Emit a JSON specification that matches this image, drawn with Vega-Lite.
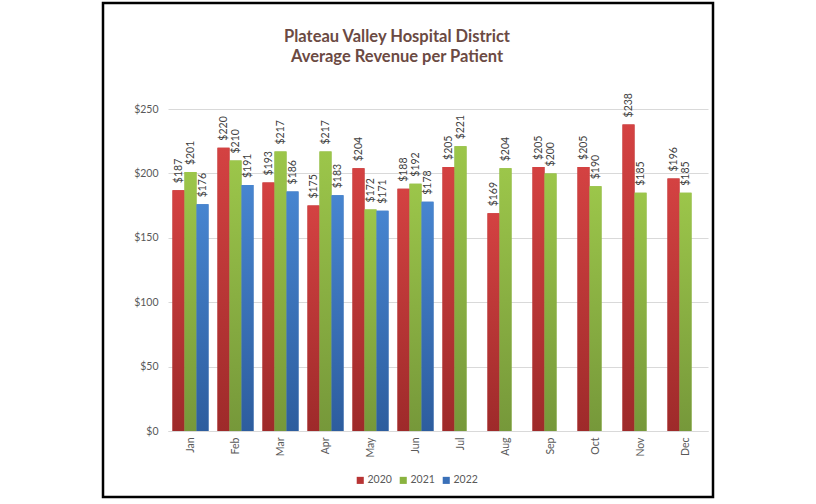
{
  "$schema": "https://vega.github.io/schema/vega-lite/v6.json",
  "width": 610,
  "height": 494,
  "autosize": {"type": "none"},
  "padding": {"left": 103, "top": 3, "right": 103, "bottom": 7},
  "background": "white",
  "config": {
    "view": {"stroke": "#000000", "strokeWidth": 2.5},
    "font": "Lato"
  },
  "title": {
    "text": ["Plateau Valley Hospital District", "Average Revenue per Patient"],
    "color": "#6B4A43",
    "fontSize": 16.5,
    "fontWeight": "bold",
    "anchor": "middle",
    "lineHeight": 20,
    "offset": -62,
    "dx": -11
  },
  "data": {
    "values": [
      {"month": "Jan", "year": "2020", "value": 187},
      {"month": "Jan", "year": "2021", "value": 201},
      {"month": "Jan", "year": "2022", "value": 176},
      {"month": "Feb", "year": "2020", "value": 220},
      {"month": "Feb", "year": "2021", "value": 210},
      {"month": "Feb", "year": "2022", "value": 191},
      {"month": "Mar", "year": "2020", "value": 193},
      {"month": "Mar", "year": "2021", "value": 217},
      {"month": "Mar", "year": "2022", "value": 186},
      {"month": "Apr", "year": "2020", "value": 175},
      {"month": "Apr", "year": "2021", "value": 217},
      {"month": "Apr", "year": "2022", "value": 183},
      {"month": "May", "year": "2020", "value": 204},
      {"month": "May", "year": "2021", "value": 172},
      {"month": "May", "year": "2022", "value": 171},
      {"month": "Jun", "year": "2020", "value": 188},
      {"month": "Jun", "year": "2021", "value": 192},
      {"month": "Jun", "year": "2022", "value": 178},
      {"month": "Jul", "year": "2020", "value": 205},
      {"month": "Jul", "year": "2021", "value": 221},
      {"month": "Aug", "year": "2020", "value": 169},
      {"month": "Aug", "year": "2021", "value": 204},
      {"month": "Sep", "year": "2020", "value": 205},
      {"month": "Sep", "year": "2021", "value": 200},
      {"month": "Oct", "year": "2020", "value": 205},
      {"month": "Oct", "year": "2021", "value": 190},
      {"month": "Nov", "year": "2020", "value": 238},
      {"month": "Nov", "year": "2021", "value": 185},
      {"month": "Dec", "year": "2020", "value": 196},
      {"month": "Dec", "year": "2021", "value": 185}
    ]
  },
  "encoding": {
    "x": {
      "field": "month",
      "type": "nominal",
      "sort": ["Jan", "Feb", "Mar", "Apr", "May", "Jun", "Jul", "Aug", "Sep", "Oct", "Nov", "Dec"],
      "scale": {"range": [65, 605], "paddingInner": 0.2, "paddingOuter": 0.1},
      "axis": {
        "title": null,
        "labelAngle": -90,
        "offset": -66,
        "ticks": false,
        "domainColor": "#D9D9D9",
        "labelColor": "#595959",
        "labelFontSize": 10.5,
        "labelPadding": 6
      }
    },
    "xOffset": {
      "field": "year",
      "type": "nominal",
      "scale": {"domain": ["2020", "2021", "2022"], "paddingInner": 0, "paddingOuter": 0}
    },
    "y": {
      "field": "value",
      "type": "quantitative",
      "scale": {"domain": [0, 250], "range": [428, 106], "nice": false},
      "axis": {
        "title": null,
        "values": [0, 50, 100, 150, 200, 250],
        "format": "$,.0f",
        "offset": -65,
        "ticks": false,
        "domain": false,
        "gridColor": "#D9D9D9",
        "labelColor": "#595959",
        "labelFontSize": 10.5,
        "labelPadding": 10
      }
    }
  },
  "layer": [
    {
      "mark": {"type": "bar"},
      "encoding": {
        "color": {
          "field": "year",
          "type": "nominal",
          "scale": {"domain": ["2020", "2021", "2022"], "range": ["#B83434", "#8AB33F", "#3A70B8"]},
          "legend": {
            "title": null,
            "orient": "none",
            "legendX": 252,
            "legendY": 472,
            "direction": "horizontal",
            "symbolType": "square",
            "symbolSize": 50,
            "symbolStrokeWidth": 0,
            "labelFontSize": 10.5,
            "labelColor": "#595959",
            "columnPadding": 6,
            "labelOffset": 2
          }
        }
      }
    },
    {
      "transform": [{"filter": "datum.year == '2020'"}],
      "mark": {
        "type": "bar",
        "color": {"gradient": "linear", "x1": 0, "y1": 0, "x2": 0, "y2": 1,
          "stops": [{"offset": 0, "color": "#D44242"}, {"offset": 1, "color": "#9E2A2A"}]}
      }
    },
    {
      "transform": [{"filter": "datum.year == '2021'"}],
      "mark": {
        "type": "bar",
        "color": {"gradient": "linear", "x1": 0, "y1": 0, "x2": 0, "y2": 1,
          "stops": [{"offset": 0, "color": "#9CC64A"}, {"offset": 1, "color": "#76983A"}]}
      }
    },
    {
      "transform": [{"filter": "datum.year == '2022'"}],
      "mark": {
        "type": "bar",
        "color": {"gradient": "linear", "x1": 0, "y1": 0, "x2": 0, "y2": 1,
          "stops": [{"offset": 0, "color": "#4785D0"}, {"offset": 1, "color": "#2D5D9E"}]}
      }
    },
    {
      "mark": {"type": "text", "angle": 270, "align": "left", "baseline": "middle", "dx": 7, "fontSize": 10.5, "color": "#404040"},
      "encoding": {
        "text": {"field": "value", "type": "quantitative", "format": "$,.0f"}
      }
    }
  ]
}
